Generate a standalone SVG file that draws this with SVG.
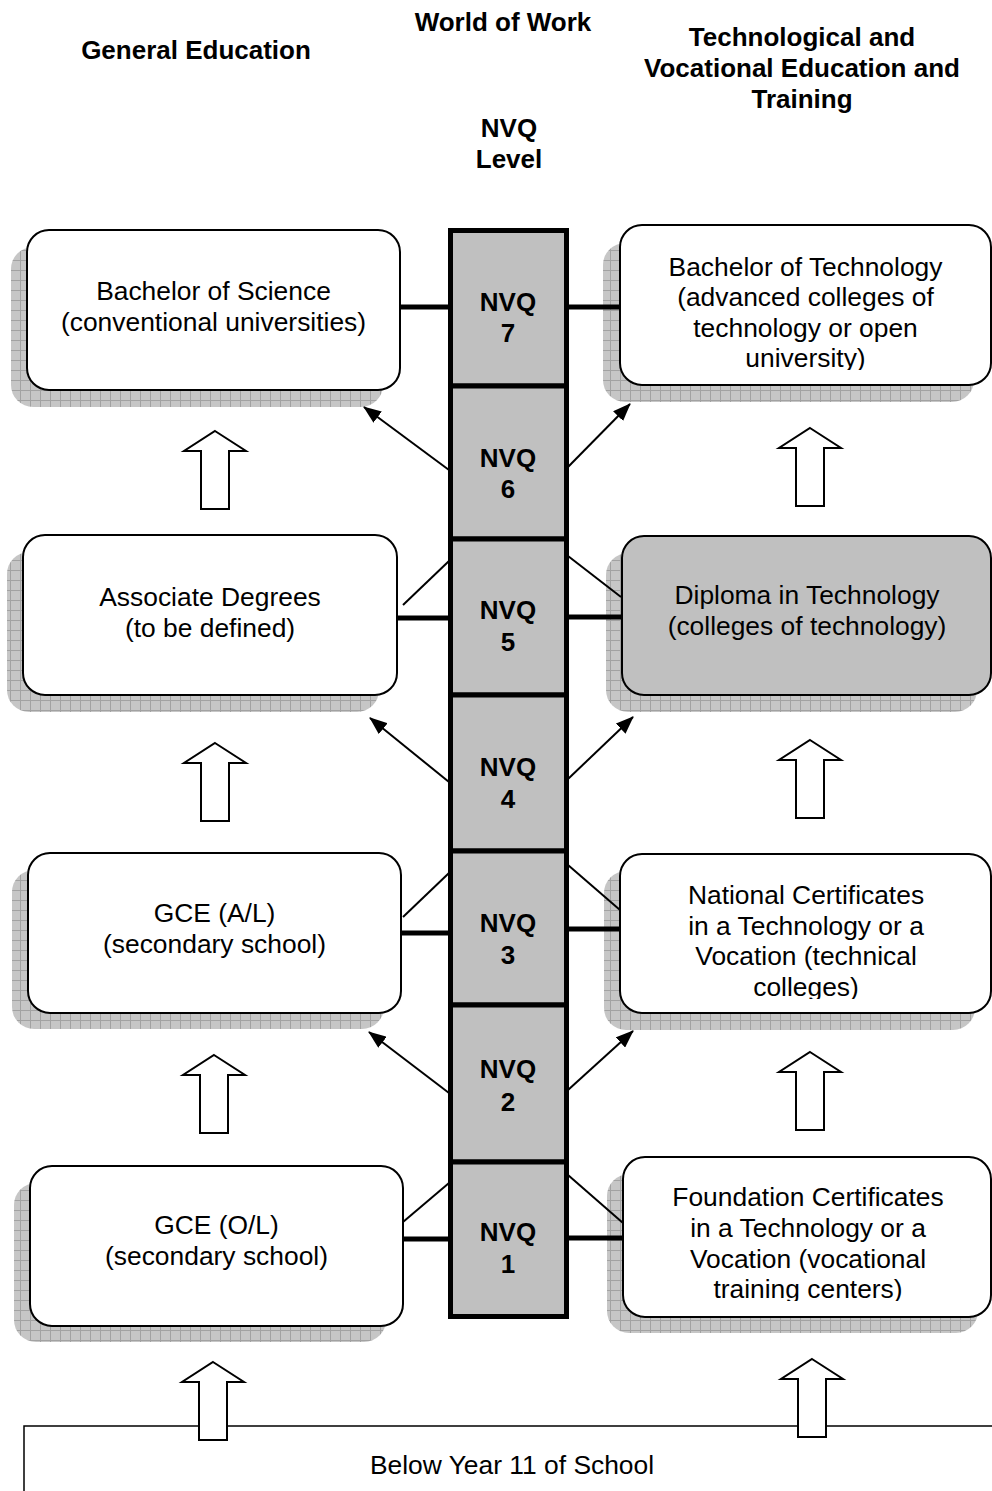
<svg xmlns="http://www.w3.org/2000/svg" width="992" height="1491" viewBox="0 0 992 1491">
<style>
text{font-family:"Liberation Sans",Arial,sans-serif;fill:#000}
.hd{font-size:26px;font-weight:bold;text-anchor:middle}
.bx{font-size:26.4px;text-anchor:middle}
.nv{font-size:26px;font-weight:bold;text-anchor:middle}
.box{fill:#fff;stroke:#000;stroke-width:2}
.gbox{fill:#c0c0c0;stroke:#000;stroke-width:2}
.shadow{fill:url(#grid)}
.cell{fill:#c0c0c0;stroke:#000;stroke-width:5}
.thick{stroke:#000;stroke-width:5;fill:none}
.thin{stroke:#000;stroke-width:2;fill:none}
.arr{stroke:#000;stroke-width:2;fill:none;marker-end:url(#ah)}
.up{fill:#fff;stroke:#000;stroke-width:2}
</style>
<defs>
<pattern id="grid" width="10" height="10" patternUnits="userSpaceOnUse">
<rect width="10" height="10" fill="#c6c6c6"/>
<path d="M0 0.5H10M0.5 0V10" stroke="#a2a2a2" stroke-width="1"/>
</pattern>
<marker id="ah" markerUnits="userSpaceOnUse" markerWidth="18" markerHeight="14" refX="17" refY="7" orient="auto">
<path d="M0,0 L18,7 L0,14 Z" fill="#000"/>
</marker>
<path id="uparrow" d="M0,0 L31,20 L14,20 L14,78 L-14,78 L-14,20 L-31,20 Z"/>
<clipPath id="c1"><rect x="620" y="225" width="372" height="145"/></clipPath>
<clipPath id="c3"><rect x="620" y="854" width="372" height="145"/></clipPath>
<clipPath id="c4"><rect x="623" y="1157" width="369" height="144"/></clipPath>
</defs>

<g id="headers">
<text class="hd" x="196" y="59">General Education</text>
<text class="hd" x="503" y="31">World of Work</text>
<text class="hd" x="802" y="46">Technological and</text>
<text class="hd" x="802" y="77">Vocational Education and</text>
<text class="hd" x="802" y="108">Training</text>
<text class="hd" x="509" y="137">NVQ</text>
<text class="hd" x="509" y="168">Level</text>
</g>

<g id="below-year-11">
<path d="M24,1491 V1426 H992" fill="none" stroke="#000" stroke-width="1.5"/>
<text class="bx" x="512" y="1474">Below Year 11 of School</text>
</g>

<g id="nvq-column">
<g id="nvq7"><rect class="cell" x="450.5" y="230.5" width="116" height="155.5"/><text class="nv" x="508" y="311">NVQ</text><text class="nv" x="508" y="342">7</text></g>
<g id="nvq6"><rect class="cell" x="450.5" y="386" width="116" height="153"/><text class="nv" x="508" y="467">NVQ</text><text class="nv" x="508" y="498">6</text></g>
<g id="nvq5"><rect class="cell" x="450.5" y="539" width="116" height="156"/><text class="nv" x="508" y="619">NVQ</text><text class="nv" x="508" y="651">5</text></g>
<g id="nvq4"><rect class="cell" x="450.5" y="695" width="116" height="156"/><text class="nv" x="508" y="776">NVQ</text><text class="nv" x="508" y="808">4</text></g>
<g id="nvq3"><rect class="cell" x="450.5" y="851" width="116" height="154"/><text class="nv" x="508" y="932">NVQ</text><text class="nv" x="508" y="964">3</text></g>
<g id="nvq2"><rect class="cell" x="450.5" y="1005" width="116" height="157"/><text class="nv" x="508" y="1078">NVQ</text><text class="nv" x="508" y="1111">2</text></g>
<g id="nvq1"><rect class="cell" x="450.5" y="1162" width="116" height="154.5"/><text class="nv" x="508" y="1241">NVQ</text><text class="nv" x="508" y="1273">1</text></g>
</g>

<g id="bachelor-science">
<rect class="shadow" x="11" y="247" width="372" height="160" rx="22"/>
<rect class="box" x="27" y="230" width="373" height="160" rx="22"/>
<text class="bx" x="213.5" y="300">Bachelor of Science</text>
<text class="bx" x="213.5" y="331">(conventional universities)</text>
</g>
<g id="associate-degrees">
<rect class="shadow" x="7" y="552" width="372" height="160" rx="22"/>
<rect class="box" x="23" y="535" width="374" height="160" rx="22"/>
<text class="bx" x="210" y="606">Associate Degrees</text>
<text class="bx" x="210" y="637">(to be defined)</text>
</g>
<g id="gce-al">
<rect class="shadow" x="12" y="870" width="372" height="159" rx="22"/>
<rect class="box" x="28" y="853" width="373" height="160" rx="22"/>
<text class="bx" x="214.5" y="922">GCE (A/L)</text>
<text class="bx" x="214.5" y="953">(secondary school)</text>
</g>
<g id="gce-ol">
<rect class="shadow" x="14" y="1183" width="372" height="159" rx="22"/>
<rect class="box" x="30" y="1166" width="373" height="160" rx="22"/>
<text class="bx" x="216.5" y="1234">GCE (O/L)</text>
<text class="bx" x="216.5" y="1265">(secondary school)</text>
</g>

<g id="bachelor-technology">
<rect class="shadow" x="603" y="243" width="371" height="159" rx="22"/>
<rect class="box" x="620" y="225" width="371" height="160" rx="22"/>
<g clip-path="url(#c1)">
<text class="bx" x="805.5" y="276">Bachelor of Technology</text>
<text class="bx" x="805.5" y="306">(advanced colleges of</text>
<text class="bx" x="805.5" y="337">technology or open</text>
<text class="bx" x="805.5" y="367">university)</text>
</g>
</g>
<g id="diploma-technology">
<rect class="shadow" x="606" y="553" width="371" height="159" rx="22"/>
<rect class="gbox" x="622" y="536" width="369" height="159" rx="22"/>
<text class="bx" x="807" y="604">Diploma in Technology</text>
<text class="bx" x="807" y="635">(colleges of technology)</text>
</g>
<g id="national-certificates">
<rect class="shadow" x="604" y="871" width="371" height="159" rx="22"/>
<rect class="box" x="620" y="854" width="371" height="159" rx="22"/>
<g clip-path="url(#c3)">
<text class="bx" x="806" y="904">National Certificates</text>
<text class="bx" x="806" y="935">in a Technology or a</text>
<text class="bx" x="806" y="965">Vocation (technical</text>
<text class="bx" x="806" y="996">colleges)</text>
</g>
</g>
<g id="foundation-certificates">
<rect class="shadow" x="607" y="1174" width="371" height="159" rx="22"/>
<rect class="box" x="623" y="1157" width="368" height="160" rx="22"/>
<g clip-path="url(#c4)">
<text class="bx" x="808" y="1206">Foundation Certificates</text>
<text class="bx" x="808" y="1237">in a Technology or a</text>
<text class="bx" x="808" y="1268">Vocation (vocational</text>
<text class="bx" x="808" y="1298">training centers)</text>
</g>
</g>

<g id="connectors">
<line class="thick" x1="400" y1="307" x2="450" y2="307"/>
<line class="thick" x1="567" y1="307" x2="620" y2="307"/>
<line class="thick" x1="398" y1="618" x2="450" y2="618"/>
<line class="thick" x1="567" y1="617" x2="622" y2="617"/>
<line class="thick" x1="401" y1="933" x2="450" y2="933"/>
<line class="thick" x1="567" y1="929" x2="620" y2="929"/>
<line class="thick" x1="403" y1="1239" x2="450" y2="1239"/>
<line class="thick" x1="567" y1="1238" x2="623" y2="1238"/>
<line class="thin" x1="449" y1="561" x2="403" y2="605"/>
<line class="thin" x1="568" y1="556" x2="621" y2="597"/>
<line class="thin" x1="449" y1="873" x2="403" y2="917"/>
<line class="thin" x1="568" y1="865" x2="620" y2="910"/>
<line class="thin" x1="449" y1="1183" x2="403" y2="1222"/>
<line class="thin" x1="568" y1="1175" x2="623" y2="1223"/>
<line class="arr" x1="449" y1="470" x2="364" y2="407"/>
<line class="arr" x1="568" y1="467" x2="630" y2="404"/>
<line class="arr" x1="449" y1="782" x2="370" y2="718"/>
<line class="arr" x1="568" y1="779" x2="633" y2="717"/>
<line class="arr" x1="449" y1="1093" x2="369" y2="1032"/>
<line class="arr" x1="568" y1="1090" x2="633" y2="1031"/>
<use href="#uparrow" class="up" x="215" y="431"/>
<use href="#uparrow" class="up" x="215" y="743"/>
<use href="#uparrow" class="up" x="214" y="1055"/>
<use href="#uparrow" class="up" x="213" y="1362"/>
<use href="#uparrow" class="up" x="810" y="428"/>
<use href="#uparrow" class="up" x="810" y="740"/>
<use href="#uparrow" class="up" x="810" y="1052"/>
<use href="#uparrow" class="up" x="812" y="1359"/>
</g>
</svg>
